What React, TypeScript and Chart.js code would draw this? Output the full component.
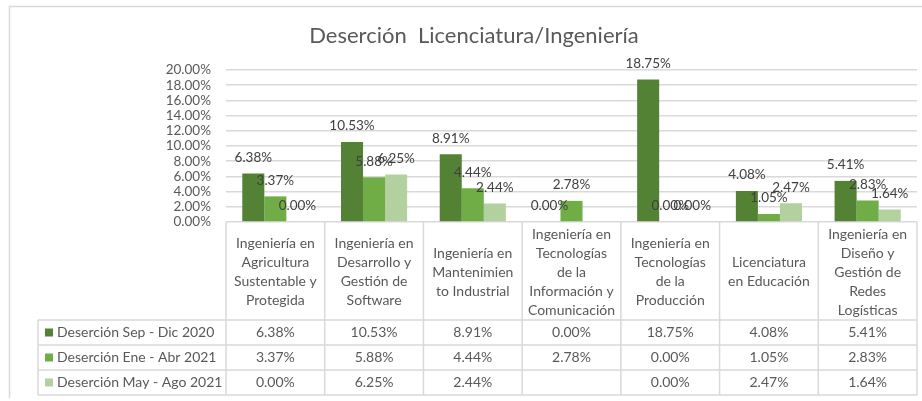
import React, { useEffect, useRef } from "react";
import { Chart, registerables } from "chart.js";

Chart.register(...registerables);

const TITLE = "Deserción  Licenciatura/Ingeniería";

const categories: string[][] = [
  ["Ingeniería en", "Agricultura", "Sustentable y", "Protegida"],
  ["Ingeniería en", "Desarrollo y", "Gestión de", "Software"],
  ["Ingeniería en", "Mantenimien", "to Industrial"],
  ["Ingeniería en", "Tecnologías", "de la", "Información y", "Comunicación"],
  ["Ingeniería en", "Tecnologías", "de la", "Producción"],
  ["Licenciatura", "en Educación"],
  ["Ingeniería en", "Diseño y", "Gestión de", "Redes", "Logísticas"],
];

const seriesNames = [
  "Deserción Sep - Dic 2020",
  "Deserción Ene - Abr 2021",
  "Deserción May - Ago 2021",
];

const sepDic2020: (number | null)[] = [6.38, 10.53, 8.91, 0.0, 18.75, 4.08, 5.41];
const eneAbr2021: (number | null)[] = [3.37, 5.88, 4.44, 2.78, 0.0, 1.05, 2.83];
const mayAgo2021: (number | null)[] = [0.0, 6.25, 2.44, null, 0.0, 2.47, 1.64];

const seriesColors = ["#548235", "#70AD47", "#B3D09F"];

const yMin = 0;
const yMax = 20;
const yStep = 2;

const FONT = 'Lato, "Open Sans", sans-serif';
const TEXT = "#595959";
const LINE = "#D9D9D9";

const fmt = (v: number | null) => (v === null ? "" : v.toFixed(2) + "%");

const decorPlugin = {
  id: "decor",
  beforeDraw(chart: any) {
    const ctx = chart.ctx;
    ctx.save();
    ctx.fillStyle = "#ffffff";
    ctx.fillRect(0, 0, chart.width, chart.height);
    ctx.strokeStyle = LINE;
    ctx.lineWidth = 1.5;
    ctx.beginPath();
    ctx.moveTo(9.5, chart.height - 3);
    ctx.lineTo(9.5, 6.5);
    ctx.lineTo(chart.width, 6.5);
    ctx.stroke();
    // title
    ctx.fillStyle = TEXT;
    ctx.font = `22px ${FONT}`;
    ctx.textAlign = "center";
    ctx.textBaseline = "middle";
    ctx.fillText(TITLE, 474, 36);
    ctx.restore();
  },
  afterDatasetsDraw(chart: any) {
    const ctx = chart.ctx;
    ctx.save();
    ctx.font = `13.5px ${FONT}`;
    ctx.fillStyle = "#404040";
    ctx.textAlign = "center";
    ctx.textBaseline = "middle";
    chart.data.datasets.forEach((ds: any, di: number) => {
      const meta = chart.getDatasetMeta(di);
      meta.data.forEach((el: any, i: number) => {
        const v = ds.data[i];
        if (v === null || v === undefined) return;
        ctx.fillText(fmt(v), el.x, el.y - 16);
      });
    });
    ctx.restore();
  },
  afterDraw(chart: any) {
    const ctx = chart.ctx;
    const ca = chart.chartArea;
    const xs = chart.scales.x;
    const n = categories.length;
    const half = (xs.getPixelForValue(1) - xs.getPixelForValue(0)) / 2;
    const edges: number[] = [];
    for (let i = 0; i < n; i++) edges.push(xs.getPixelForValue(i) - half);
    edges.push(xs.getPixelForValue(n - 1) + half);

    const headerTop = ca.bottom;
    const headerH = 98;
    const rowH = 25;
    const rowsTop = headerTop + headerH;
    const tableBottom = rowsTop + rowH * seriesNames.length;
    const legendLeft = 38;
    const rows = [sepDic2020, eneAbr2021, mayAgo2021];

    ctx.save();
    ctx.strokeStyle = LINE;
    ctx.lineWidth = 1.5;
    ctx.beginPath();
    edges.forEach((x) => {
      ctx.moveTo(x, headerTop);
      ctx.lineTo(x, tableBottom);
    });
    ctx.moveTo(legendLeft, rowsTop);
    ctx.lineTo(legendLeft, tableBottom);
    for (let r = 0; r <= seriesNames.length; r++) {
      const y = rowsTop + r * rowH;
      ctx.moveTo(legendLeft, y);
      ctx.lineTo(edges[n], y);
    }
    ctx.stroke();

    ctx.fillStyle = TEXT;
    ctx.font = `14px ${FONT}`;
    ctx.textAlign = "center";
    ctx.textBaseline = "middle";
    const lh = 19;
    categories.forEach((lines, i) => {
      const cx = xs.getPixelForValue(i);
      const cy = headerTop + headerH / 2 + 1;
      const start = cy - ((lines.length - 1) * lh) / 2;
      lines.forEach((t, k) => ctx.fillText(t, cx, start + k * lh));
    });

    rows.forEach((vals, r) => {
      const cy = rowsTop + r * rowH + rowH / 2;
      vals.forEach((v, i) => {
        ctx.fillText(fmt(v), xs.getPixelForValue(i), cy);
      });
    });

    ctx.textAlign = "left";
    seriesNames.forEach((name, r) => {
      const cy = rowsTop + r * rowH + rowH / 2;
      ctx.fillStyle = seriesColors[r];
      ctx.fillRect(45, cy - 4, 8, 8);
      ctx.fillStyle = TEXT;
      ctx.fillText(name, 57, cy);
    });
    ctx.restore();
  },
};

export default function App() {
  const ref = useRef<HTMLCanvasElement | null>(null);
  useEffect(() => {
    document.body.style.margin = "0";
    const canvas = ref.current!;
    const chart = new Chart(canvas, {
      type: "bar",
      data: {
        labels: categories.map((c) => c.join(" ")),
        datasets: [
          { label: seriesNames[0], data: sepDic2020, backgroundColor: seriesColors[0] },
          { label: seriesNames[1], data: eneAbr2021, backgroundColor: seriesColors[1] },
          { label: seriesNames[2], data: mayAgo2021, backgroundColor: seriesColors[2] },
        ],
      },
      options: {
        animation: false,
        responsive: false,
        maintainAspectRatio: false,
        devicePixelRatio: 1,
        layout: { padding: { top: 70, left: 0, right: 5, bottom: 179 } },
        datasets: { bar: { categoryPercentage: 0.67, barPercentage: 1.0 } },
        plugins: {
          legend: { display: false },
          title: { display: false },
          tooltip: { enabled: false },
        },
        scales: {
          x: { display: false },
          y: {
            min: yMin,
            max: yMax,
            ticks: {
              stepSize: yStep,
              autoSkip: false,
              padding: 15,
              color: TEXT,
              font: { family: FONT, size: 13.5 },
              callback: (v: any) => Number(v).toFixed(2) + "%",
            },
            grid: { color: LINE, lineWidth: 1.5, drawTicks: false },
            border: { display: false },
            afterFit: (s: any) => {
              s.width = 226;
            },
          },
        },
      },
      plugins: [decorPlugin],
    });
    return () => chart.destroy();
  }, []);
  return <canvas ref={ref} width={922} height={401} style={{ display: "block" }} />;
}
